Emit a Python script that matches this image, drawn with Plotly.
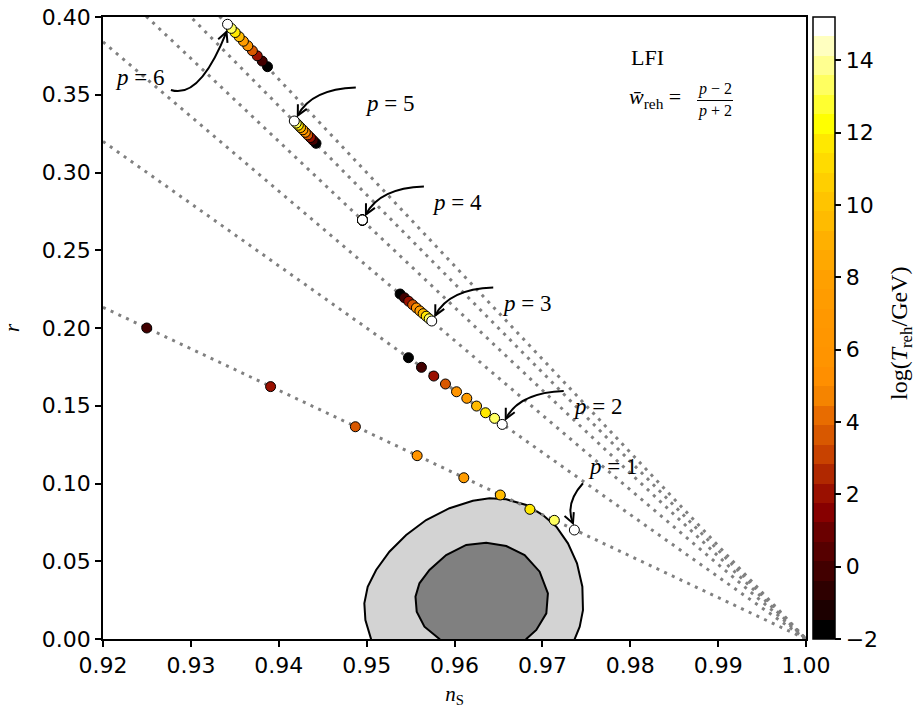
import plotly.graph_objects as go

# ---------------- data ----------------
# log10(T_reh / GeV) of each point (low -> high reheating temperature)
logT = [-2.0, -0.1, 1.8, 3.7, 5.6, 7.6, 9.5, 11.5, 13.3, 15.2]
logT_p1 = [-0.1, 1.8, 3.7, 5.6, 7.6, 9.5, 11.5, 13.3, 15.2]

ns_p1 = [0.92498, 0.93907, 0.94872, 0.95575, 0.96106, 0.96521, 0.96858, 0.97136, 0.97364]
r_p1 = [0.2000, 0.1623, 0.1365, 0.1179, 0.1037, 0.0926, 0.0834, 0.0763, 0.0701]

ns_p2 = [0.95476, 0.95624, 0.95764, 0.95897, 0.96023, 0.96140, 0.96251, 0.96353, 0.96456, 0.96543]
r_p2 = [0.1809, 0.1747, 0.1691, 0.1640, 0.1590, 0.1548, 0.1498, 0.1455, 0.1419, 0.1380]

ns_p3 = [0.95381, 0.95431, 0.95479, 0.95524, 0.95566, 0.95606, 0.95643, 0.95678, 0.95712, 0.95741]
r_p3 = [0.22186, 0.21942, 0.21717, 0.21498, 0.21293, 0.21100, 0.20920, 0.20759, 0.20592, 0.20450]

ns_p4 = [0.94952, 0.94952, 0.94952, 0.94952, 0.94952, 0.94952, 0.94952, 0.94952, 0.94952, 0.94952]
r_p4 = [0.26945, 0.26945, 0.26945, 0.26945, 0.26945, 0.26945, 0.26945, 0.26945, 0.26945, 0.26945]

ns_p5 = [0.94424, 0.94391, 0.94360, 0.94330, 0.94302, 0.94275, 0.94248, 0.94223, 0.94199, 0.94177]
r_p5 = [0.31878, 0.32071, 0.32251, 0.32418, 0.32585, 0.32746, 0.32894, 0.33042, 0.33177, 0.33312]

ns_p6 = [0.93872, 0.93812, 0.93755, 0.93700, 0.93648, 0.93598, 0.93550, 0.93504, 0.93460, 0.93417]
r_p6 = [0.36804, 0.37164, 0.37505, 0.37833, 0.38148, 0.38444, 0.38733, 0.39003, 0.39267, 0.39531]

# straight attractor lines r(n_s) for p = 1..6, from n_s = 0.92 to n_s = 1
p_values = [1, 2, 3, 4, 5, 6]
line_ns = [0.92, 1.00]
line_r_start = [0.2133, 0.3200, 0.3840, 0.4267, 0.4571, 0.4800]
line_r_end = [0.0, 0.0, 0.0, 0.0, 0.0, 0.0]

# Planck 68% / 95% contours
outer_ns = [0.9505, 0.9505, 0.94986, 0.94974, 0.95012, 0.95108, 0.95259, 0.95450, 0.95677,
            0.95943, 0.96209, 0.96399, 0.96589, 0.96817, 0.97006, 0.97159, 0.97291,
            0.97394, 0.97455, 0.97462, 0.97425, 0.97368, 0.97368]
outer_r = [-0.010, 0.0, 0.0122, 0.0230, 0.0336, 0.0444, 0.0561, 0.0669, 0.0765,
           0.0841, 0.0889, 0.0905, 0.0898, 0.0862, 0.0797, 0.0722, 0.0615,
           0.0487, 0.0336, 0.0186, 0.0079, 0.0, -0.010]
inner_ns = [0.95829, 0.95829, 0.95658, 0.95570, 0.95556, 0.95601, 0.95715, 0.95905, 0.96133,
            0.96361, 0.96589, 0.96798, 0.96969, 0.97063, 0.97045, 0.96931, 0.96817, 0.96817]
inner_r = [-0.010, 0.0, 0.0079, 0.0176, 0.0272, 0.0358, 0.0444, 0.0540, 0.0605,
           0.0619, 0.0598, 0.0540, 0.0433, 0.0294, 0.0165, 0.0058, 0.0, -0.010]

x_ticks = [0.92, 0.93, 0.94, 0.95, 0.96, 0.97, 0.98, 0.99, 1.00]
y_ticks = [0.00, 0.05, 0.10, 0.15, 0.20, 0.25, 0.30, 0.35, 0.40]
cbar_ticks = [-2, 0, 2, 4, 6, 8, 10, 12, 14]

# ---------------- styling ----------------
W, H = 917, 709
ML, MR, MT, MB = 103, 111, 17, 70
PW, PH = W - ML - MR, H - MT - MB
XR, YR = [0.92, 1.00], [0.0, 0.40]
CMIN, CMAX = -2.0, 15.2

SERIF = "Liberation Serif"
SANS = "DejaVu Sans"

# discretised "hot"-like colour map (32 levels)
band_colors = [
    "#000000", "#1c0000", "#2e0000", "#420000", "#560000", "#6a0000", "#870000", "#9a1000",
    "#b02800", "#c84200", "#d85800", "#e86c00", "#f58400", "#ff8f00", "#ff9400", "#ff9600",
    "#ff9800", "#ff9c00", "#ffa000", "#ffa800", "#ffb000", "#ffbb00", "#ffc400", "#ffcf00",
    "#ffdb00", "#ffe800", "#ffff00", "#ffff30", "#ffff60", "#ffff90", "#ffffc0", "#ffffff",
]
nb = len(band_colors)
colorscale = []
for k, c in enumerate(band_colors):
    colorscale.append([k / nb, c])
    colorscale.append([(k + 1) / nb, c])

sx = PW / (XR[1] - XR[0])   # px per unit of n_s
sy = PH / (YR[1] - YR[0])   # px per unit of r


def shift(pt, dx, dy):
    """Move a data point by (dx, dy) screen pixels (dy pointing down)."""
    return (pt[0] + dx / sx, pt[1] - dy / sy)


def px_to_paper(px, py):
    return (px - ML) / PW, (H - MB - py) / PH


fig = go.Figure()

# contours
fig.add_trace(go.Scatter(x=outer_ns, y=outer_r, mode="lines", fill="toself",
                         fillcolor="#d3d3d3", line=dict(color="black", width=2),
                         hoverinfo="skip", showlegend=False))
fig.add_trace(go.Scatter(x=inner_ns, y=inner_r, mode="lines", fill="toself",
                         fillcolor="#808080", line=dict(color="black", width=2),
                         hoverinfo="skip", showlegend=False))

# dotted attractor lines
for r0, r1 in zip(line_r_start, line_r_end):
    fig.add_trace(go.Scatter(x=line_ns, y=[r0, r1], mode="lines",
                             line=dict(color="#808080", width=3, dash="3px,5.5px"),
                             hoverinfo="skip", showlegend=False))

series = [
    (ns_p1, r_p1, logT_p1),
    (ns_p2, r_p2, logT),
    (ns_p3, r_p3, logT),
    (ns_p4, r_p4, logT),
    (ns_p5, r_p5, logT),
    (ns_p6, r_p6, logT),
]
for ns, r, t in series:
    fig.add_trace(go.Scatter(
        x=ns, y=r, mode="markers", showlegend=False,
        marker=dict(size=10, color=t, coloraxis="coloraxis",
                    line=dict(color="black", width=1)),
        cliponaxis=False,
    ))

# labels and curved arrows pointing at the highest-temperature point of each p
label_off = {1: (38, -63), 2: (95, -18), 3: (95, -18), 4: (95, -18), 5: (95, -18), 6: (-88, 53)}
arrow_geo = {
    1: [(8.6, -46.7), (-9.6, -26.7), (-1.4, -6.7)],
    2: [(61.5, -33.5), (17.0, -32.0), (3.5, -5.5)],
    3: [(61.5, -33.5), (17.0, -32.0), (3.5, -5.5)],
    4: [(61.5, -33.5), (17.0, -32.0), (3.5, -5.5)],
    5: [(61.5, -33.5), (17.0, -32.0), (3.5, -5.5)],
    6: [(-56.6, 65.7), (-27.8, 75.0), (-1.0, 7.5)],
}
shapes = []
annotations = []
for p, (ns, r, _) in zip(p_values, series):
    tip = (ns[-1], r[-1])
    dx, dy = label_off[p]
    annotations.append(dict(x=tip[0], y=tip[1], xref="x", yref="y", xshift=dx, yshift=-dy,
                            text=f"<i>p</i> = {p}", showarrow=False, xanchor="center",
                            yanchor="middle", font=dict(family=SERIF, size=23, color="black")))
    (ax0, ay0), (acx, acy), (ax2, ay2) = arrow_geo[p]
    P0 = shift(tip, ax0, ay0)
    C = shift(tip, acx, acy)
    P2 = shift(tip, ax2, ay2)
    shapes.append(dict(type="path", xref="x", yref="y",
                       path=f"M {P0[0]},{P0[1]} Q {C[0]},{C[1]} {P2[0]},{P2[1]}",
                       line=dict(color="black", width=2)))
    # open arrow head
    tx, ty = ax2 - acx, ay2 - acy
    nrm = (tx * tx + ty * ty) ** 0.5
    tx, ty = tx / nrm, ty / nrm
    L, Wd = 10.0, 5.0
    bx, by = ax2 - tx * L, ay2 - ty * L
    w1 = shift(tip, bx - ty * Wd, by + tx * Wd)
    w2 = shift(tip, bx + ty * Wd, by - tx * Wd)
    shapes.append(dict(type="path", xref="x", yref="y",
                       path=f"M {w1[0]},{w1[1]} L {P2[0]},{P2[1]} L {w2[0]},{w2[1]}",
                       line=dict(color="black", width=2)))

# model label in the upper right corner
lx, ly = px_to_paper(629, 57)
annotations.append(dict(x=lx, y=ly, xref="paper", yref="paper", text="LFI", showarrow=False,
                        xanchor="left", yanchor="middle",
                        font=dict(family=SERIF, size=22, color="black")))
wx, wy = px_to_paper(627, 98)
annotations.append(dict(x=wx, y=wy, xref="paper", yref="paper",
                        text="<i>w\u0304</i><sub>reh</sub> =", showarrow=False,
                        xanchor="left", yanchor="middle",
                        font=dict(family=SERIF, size=22, color="black")))
nx, ny = px_to_paper(715, 89)
annotations.append(dict(x=nx, y=ny, xref="paper", yref="paper", text="<i>p</i> \u2212 2",
                        showarrow=False, xanchor="center", yanchor="middle",
                        font=dict(family=SERIF, size=16, color="black")))
dxp, dyp = px_to_paper(715, 111)
annotations.append(dict(x=dxp, y=dyp, xref="paper", yref="paper", text="<i>p</i> + 2",
                        showarrow=False, xanchor="center", yanchor="middle",
                        font=dict(family=SERIF, size=16, color="black")))
b0x, by0 = px_to_paper(697, 100.5)
b1x, _ = px_to_paper(733, 100.5)
shapes.append(dict(type="line", xref="paper", yref="paper", x0=b0x, x1=b1x, y0=by0, y1=by0,
                   line=dict(color="black", width=1)))

# colour bar label, placed explicitly to the right of the tick labels
cx, cy = px_to_paper(901, 334)
annotations.append(dict(x=cx, y=cy, xref="paper", yref="paper", textangle=-90,
                        text="log(<i>T</i><sub>reh</sub>/GeV)", showarrow=False,
                        xanchor="center", yanchor="middle",
                        font=dict(family=SERIF, size=24, color="black")))

axis_common = dict(showgrid=False, zeroline=False, showline=True, linecolor="black",
                   linewidth=1.5, mirror=True, ticks="outside", ticklen=6, tickwidth=1.5,
                   tickcolor="black", tickformat=".2f",
                   tickfont=dict(family=SANS, size=22, color="black"))

fig.update_layout(
    width=W, height=H,
    margin=dict(l=ML, r=MR, t=MT, b=MB, autoexpand=False),
    paper_bgcolor="white", plot_bgcolor="white",
    showlegend=False,
    xaxis=dict(range=XR, tickvals=x_ticks, **axis_common,
               title=dict(text="<i>n</i><sub>S</sub>", standoff=9,
                          font=dict(family=SERIF, size=21, color="black"))),
    yaxis=dict(range=YR, tickvals=y_ticks, **axis_common,
               title=dict(text="<i>r</i>", standoff=18,
                          font=dict(family=SERIF, size=21, color="black"))),
    coloraxis=dict(
        colorscale=colorscale, cmin=CMIN, cmax=CMAX,
        colorbar=dict(
            x=(813 - ML) / PW, xanchor="left", xpad=0, ypad=0,
            y=0.5, yanchor="middle", len=1, lenmode="fraction",
            thickness=22, outlinewidth=1.5, outlinecolor="black",
            ticks="outside", ticklen=6, tickwidth=1.5, tickcolor="black",
            tickvals=cbar_ticks,
            tickfont=dict(family=SANS, size=22, color="black"),
        ),
    ),
    shapes=shapes,
    annotations=annotations,
)

fig.write_html("out.html")
